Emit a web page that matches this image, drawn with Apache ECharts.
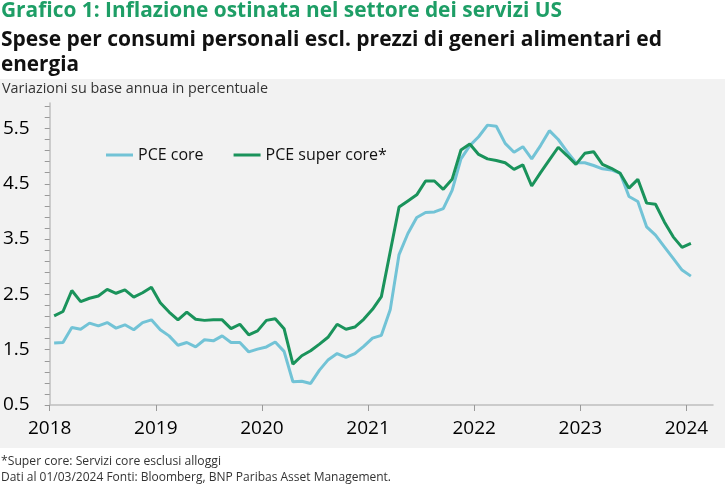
<!DOCTYPE html>
<html><head><meta charset="utf-8">
<script src="https://cdn.jsdelivr.net/npm/echarts@6/dist/echarts.min.js"></script>
<style>html,body{margin:0;padding:0;background:#fff}#c{width:725px;height:485px}</style>
</head><body><div id="c"></div>
<script>
// ---- data ----
const years = ['2018','2019','2020','2021','2022','2023','2024'];
const yLabelValues = [0.5, 1.5, 2.5, 3.5, 4.5, 5.5];
const seriesNames = ['PCE core', 'PCE super core*'];
// monthly values, Jan 2018 .. Jan 2024
const pceCore = [
  1.62, 1.63, 1.90, 1.87, 1.98, 1.93, 1.99, 1.89, 1.95, 1.86, 1.99, 2.04,
  1.86, 1.75, 1.58, 1.63, 1.55, 1.68, 1.66, 1.75, 1.63, 1.63, 1.46, 1.51,
  1.55, 1.64, 1.47, 0.92, 0.93, 0.89, 1.13, 1.32, 1.43, 1.36, 1.43, 1.56,
  1.71, 1.76, 2.22, 3.22, 3.60, 3.89, 3.98, 3.99, 4.05, 4.38, 4.95, 5.19,
  5.35, 5.56, 5.54, 5.23, 5.07, 5.17, 4.95, 5.19, 5.46, 5.30, 5.08, 4.88,
  4.88, 4.83, 4.77, 4.75, 4.69, 4.27, 4.18, 3.72, 3.57, 3.36, 3.15, 2.94,
  2.83
];
const pceSuperCore = [
  2.11, 2.19, 2.57, 2.37, 2.43, 2.47, 2.59, 2.52, 2.58, 2.45, 2.53, 2.63,
  2.35, 2.18, 2.04, 2.18, 2.05, 2.03, 2.04, 2.04, 1.88, 1.96, 1.77, 1.84,
  2.03, 2.06, 1.88, 1.24, 1.39, 1.48, 1.60, 1.73, 1.96, 1.87, 1.91, 2.05,
  2.23, 2.46, 3.27, 4.08, 4.19, 4.30, 4.55, 4.55, 4.40, 4.58, 5.11, 5.22,
  5.03, 4.95, 4.92, 4.88, 4.76, 4.84, 4.46, 4.70, 4.93, 5.16, 5.01, 4.85,
  5.05, 5.08, 4.85, 4.78, 4.69, 4.42, 4.58, 4.15, 4.13, 3.81, 3.54, 3.35,
  3.42
];
const titleText = 'Grafico 1: Inflazione ostinata nel settore dei servizi US';
const subtitle1 = 'Spese per consumi personali escl. prezzi di generi alimentari ed';
const subtitle2 = 'energia';
const unitText = 'Variazioni su base annua in percentuale';
const note1 = '*Super core: Servizi core esclusi alloggi';
const note2 = 'Dati al 01/03/2024 Fonti: Bloomberg, BNP Paribas Asset Management.';

// ---- helpers ----
const mctx = document.createElement('canvas').getContext('2d');
function fitText(text, font, targetW, x, y, fill) {
  mctx.font = font;
  const w = mctx.measureText(text).width;
  return {
    type: 'text', x: x, y: y, scaleX: targetW ? targetW / w : 1,
    style: { text: text, font: font, fill: fill, textVerticalAlign: 'middle' },
    z: 10
  };
}
const toPoints = arr => arr.map((v, i) => [i + 0.5, v]);
const yTicks = [];
for (let v = 0.5; v < 5.95; v += 0.2) yTicks.push(Math.round(v * 10) / 10);

const GREEN = '#1A935B', BLUE = '#72C3D6', AXIS = '#BFBFBF';
const FF = '"Open Sans", "Noto Sans", sans-serif';

const chart = echarts.init(document.getElementById('c'), null, { renderer: 'canvas' });
chart.setOption({
  backgroundColor: '#ffffff',
  animation: false,
  graphic: [
    { type: 'rect', shape: { x: 0, y: 79, width: 725, height: 369 }, style: { fill: '#F2F2F2' }, z: -10 },
    fitText(titleText, 'bold 21px "Open Sans"', 561, 1, 11, '#1E9E66'),
    fitText(subtitle1, 'bold 22px "Open Sans"', 661, 1, 40, '#111111'),
    fitText(subtitle2, 'bold 22px "Open Sans"', 78, 1, 65, '#111111'),
    fitText(unitText, '14px "Open Sans"', 266, 2, 89, '#333333'),
    fitText(note1, '13px "Open Sans"', 220, 1, 461, '#333333'),
    fitText(note2, '13px "Open Sans"', 390, 1, 477, '#333333')
  ],
  legend: {
    left: 106, top: 147, padding: 0,
    itemWidth: 27, itemHeight: 3, itemGap: 30, icon: 'rect',
    textStyle: { fontSize: 16, fontFamily: FF, color: '#111' },
    data: seriesNames
  },
  grid: { left: 49, right: 12, top: 103, bottom: 80, containLabel: false },
  xAxis: {
    type: 'value', min: 0, max: 75,
    axisLine: { show: true, lineStyle: { color: AXIS, width: 1.5 } },
    axisTick: { show: true, length: 6, lineStyle: { color: '#999' }, customValues: years.map((y, k) => k * 12) },
    axisLabel: {
      customValues: years.map((y, k) => k * 12),
      formatter: v => years[Math.round(v / 12)],
      fontSize: 19, fontFamily: FF, color: '#000', margin: 14
    },
    splitLine: { show: false }
  },
  yAxis: {
    type: 'value', min: 0.5, max: 5.96,
    axisLine: { show: true, lineStyle: { color: AXIS, width: 1.5 } },
    axisTick: { show: true, length: 5, lineStyle: { color: '#999' }, customValues: yTicks },
    axisLabel: {
      customValues: yLabelValues,
      formatter: v => v.toFixed(1),
      fontSize: 19, fontFamily: FF, color: '#000', margin: 20
    },
    splitLine: { show: false }
  },
  series: [
    { name: seriesNames[0], type: 'line', data: toPoints(pceCore), symbol: 'none',
      lineStyle: { color: BLUE, width: 3 }, itemStyle: { color: BLUE }, z: 2 },
    { name: seriesNames[1], type: 'line', data: toPoints(pceSuperCore), symbol: 'none',
      lineStyle: { color: GREEN, width: 3 }, itemStyle: { color: GREEN }, z: 3 }
  ]
});
</script></body></html>
